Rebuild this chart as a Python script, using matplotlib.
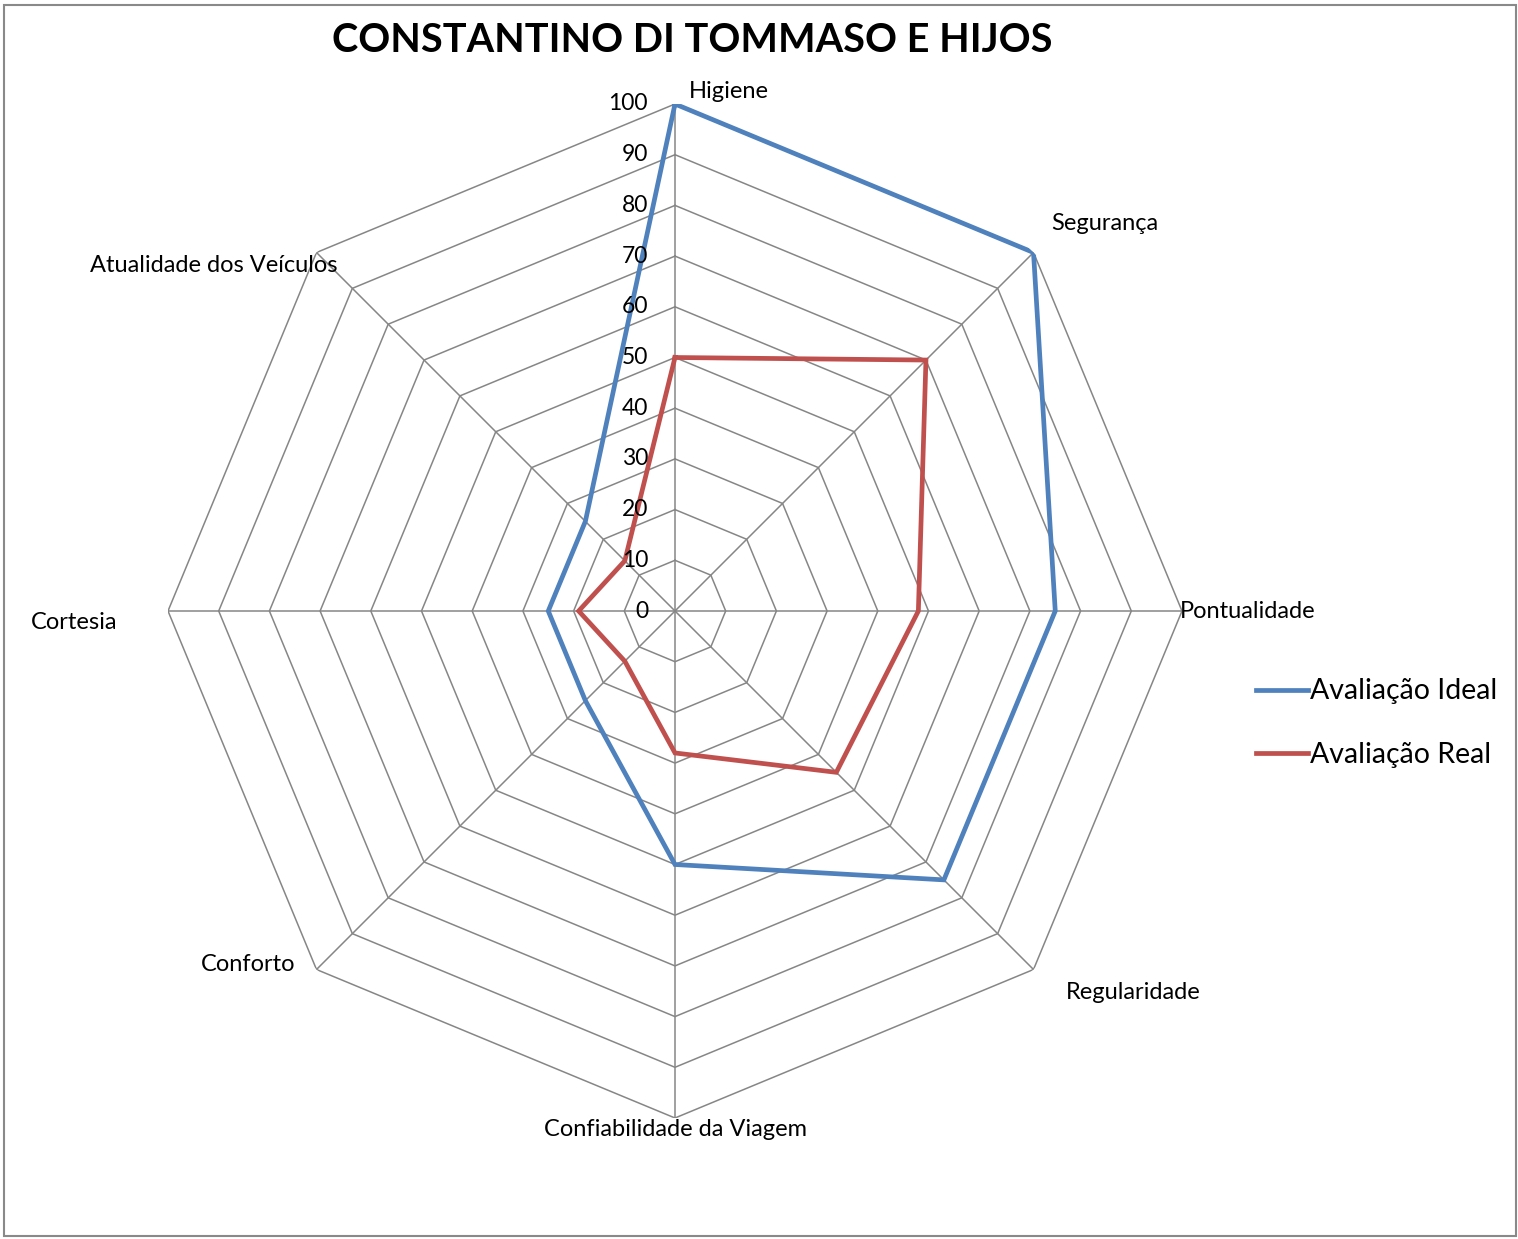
import numpy as np
import matplotlib.pyplot as plt
from matplotlib.patches import Rectangle

plt.rcParams['font.family'] = ['Lato', 'DejaVu Sans']

title = "CONSTANTINO DI TOMMASO E HIJOS"
categories = ["Higiene", "Segurança", "Pontualidade", "Regularidade",
              "Confiabilidade da Viagem", "Conforto", "Cortesia",
              "Atualidade dos Veículos"]
ideal = [100, 100, 75, 75, 50, 25, 25, 25]
real = [50, 70, 48, 45, 28, 14, 19, 14]
ticks = [0, 10, 20, 30, 40, 50, 60, 70, 80, 90, 100]
series_names = ["Avaliação Ideal", "Avaliação Real"]
colors = ["#4F81BD", "#C0504D"]

# label placement (pixel offsets from the outer vertex, ha)
label_pos = [(14, 13, 'left'), (18, 29, 'left'), (-2, 0, 'left'),
             (32, -23, 'left'), (0, -12, 'center'), (-21, 5, 'right'),
             (-51, -11, 'right'), (21, -13, 'right')]

W, H = 1518, 1239
fig = plt.figure(figsize=(W / 100, H / 100), dpi=100)
cx, cy, R = 675, 611, 507
ax = fig.add_axes([(cx - R) / W, (H - cy - R) / H, 2 * R / W, 2 * R / H],
                  projection='polar')
ax.set_theta_zero_location('N')
ax.set_theta_direction(-1)
ax.set_ylim(0, 100)
ax.grid(False)
ax.spines['polar'].set_visible(False)
ax.set_xticks([])
ax.set_yticks([])
ax.patch.set_alpha(0)

n = len(categories)
angles = np.linspace(0, 2 * np.pi, n, endpoint=False)
closed = np.concatenate([angles, angles[:1]])

grid_col = "#868686"
for t in ticks[1:]:
    ax.plot(closed, [t] * (n + 1), color=grid_col, lw=1.1, zorder=1)
for a in angles:
    ax.plot([a, a], [0, 100], color=grid_col, lw=1.1, zorder=1)

for vals, name, c in zip([ideal, real], series_names, colors):
    ax.plot(closed, vals + vals[:1], color=c, lw=3.4, label=name, zorder=3,
            solid_joinstyle='miter')

for t in ticks:
    ax.annotate(str(t), xy=(0, t), xytext=(-27, 0), textcoords='offset pixels',
                ha='right', va='center', fontsize=16.5, zorder=4)

for a, lab, (dx, dy, ha) in zip(angles, categories, label_pos):
    ax.annotate(lab, xy=(a, 100), xytext=(dx, dy), textcoords='offset pixels',
                ha=ha, va='center', fontsize=17, annotation_clip=False)

fig.text(692 / W, 1 - 40 / H, title, ha='center', va='center',
         fontsize=28.5, fontweight='bold')

fig.legend(loc='center left', bbox_to_anchor=(1245 / W, 1 - 723 / H),
           frameon=False, fontsize=20.5, handlelength=1.8, handletextpad=0.08,
           labelspacing=1.3, borderaxespad=0)

fig.patches.append(Rectangle((4 / W, 3 / H), 1512 / W, 1231 / H,
                             transform=fig.transFigure, fill=False,
                             edgecolor="#898989", lw=1.5))

fig.savefig("out.png", dpi=100)
